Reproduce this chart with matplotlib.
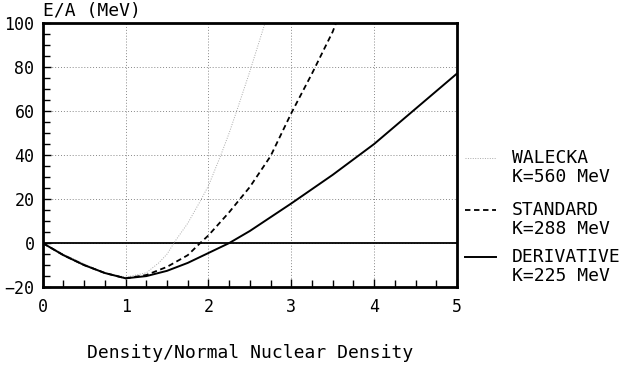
import numpy as np
import matplotlib.pyplot as plt
from matplotlib.lines import Line2D
from matplotlib.ticker import MultipleLocator

# density / normal nuclear density
x_wal = [0, 0.25, 0.5, 0.75, 1.0, 1.25, 1.4, 1.5, 1.6, 1.75, 1.9, 2.0, 2.15, 2.25, 2.35, 2.5, 2.7]
e_wal = [0, -5, -9.5, -13.5, -15.5, -13.5, -9, -5, 1, 9, 19, 26, 40, 50, 61, 78, 102]

x_std = [0, 0.25, 0.5, 0.75, 1.0, 1.25, 1.5, 1.75, 1.9, 2.0, 2.25, 2.5, 2.75, 3.0, 3.25, 3.5, 3.56]
e_std = [0, -5.5, -10, -13.6, -16, -14.5, -10.8, -5.5, 0, 3.5, 14, 25.5, 39.5, 59, 77, 96, 102]

x_der = [0, 0.25, 0.5, 0.75, 1.0, 1.25, 1.5, 1.75, 2.0, 2.25, 2.5, 3.0, 3.5, 4.0, 4.5, 5.0]
e_der = [0, -5.5, -10, -13.6, -16, -15, -12.6, -9, -4.5, 0, 5.5, 18, 31, 45, 61, 77]

legend_names = [('WALECKA', 'K=560 MeV'), ('STANDARD', 'K=288 MeV'), ('DERIVATIVE', 'K=225 MeV')]

plt.rcParams['font.family'] = ['DejaVu Sans Mono']

fig = plt.figure(figsize=(6.2, 3.7), dpi=100)
ax = fig.add_axes([0.069, 0.224, 0.668, 0.714])

ax.grid(True, color='#888888', linestyle=(0, (1, 2)), linewidth=0.7)
ax.axhline(0, color='black', linewidth=1.3)

ax.plot(x_wal, e_wal, color='#aaaaaa', linestyle=(0, (1, 1.5)), linewidth=0.7)
ax.plot(x_std, e_std, color='black', linestyle=(0, (3, 2)), linewidth=1.3)
ax.plot(x_der, e_der, color='black', linewidth=1.4)

ax.set_xlim(0, 5)
ax.set_ylim(-20, 100)
ax.xaxis.set_major_locator(MultipleLocator(1))
ax.xaxis.set_minor_locator(MultipleLocator(0.25))
ax.yaxis.set_major_locator(MultipleLocator(20))
ax.yaxis.set_minor_locator(MultipleLocator(5))
ax.tick_params(which='both', direction='in', top=False, right=False, labelsize=12)
ax.tick_params(which='major', length=6, width=1)
ax.tick_params(which='minor', length=5, width=1)
ax.tick_params(axis='y', pad=6)
ax.tick_params(axis='x', pad=8)
for s in ax.spines.values():
    s.set_linewidth(2)

ax.text(0.0, 1.01, 'E/A (MeV)', transform=ax.transAxes, fontsize=13,
        ha='left', va='bottom')
ax.set_xlabel('Density/Normal Nuclear Density', fontsize=13, labelpad=20)

# legend drawn beside the axes
styles = [dict(color='#aaaaaa', linestyle=(0, (1, 1.5)), linewidth=0.7),
          dict(color='black', linestyle=(0, (3, 2)), linewidth=1.3),
          dict(color='black', linewidth=1.4)]
ys = [158, 210, 257]
for (n1, n2), st, y in zip(legend_names, styles, ys):
    fy = 1 - y / 370
    fig.add_artist(Line2D([465 / 620, 496 / 620], [fy, fy], **st))
    fig.text(512 / 620, fy, n1, fontsize=13, ha='left', va='center')
    fig.text(512 / 620, fy - 19 / 370, n2, fontsize=13, ha='left', va='center')

fig.savefig('out.png', dpi=100)
